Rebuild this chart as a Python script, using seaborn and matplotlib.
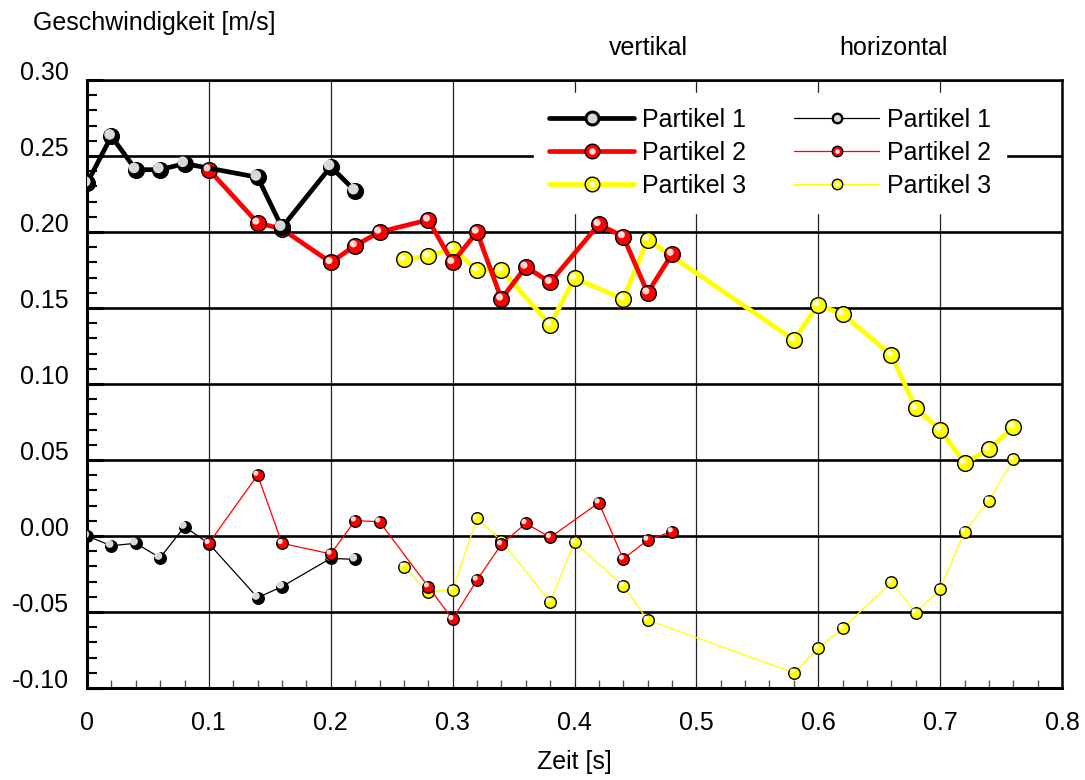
import matplotlib
matplotlib.use("Agg")
import matplotlib.pyplot as plt
import matplotlib.transforms as mtransforms
from matplotlib.lines import Line2D
from matplotlib.legend_handler import HandlerTuple
from matplotlib.ticker import MultipleLocator, FuncFormatter
import pandas as pd
import seaborn as sns

# vertikal (dicke Linien)
t_v1 = [0, 0.02, 0.04, 0.06, 0.08, 0.14, 0.16, 0.20, 0.22]
v_v1 = [0.232, 0.263, 0.241, 0.241, 0.245, 0.236, 0.203, 0.243, 0.227]

t_v2 = [0.10, 0.14, 0.16, 0.20, 0.22, 0.24, 0.28, 0.30, 0.32, 0.34, 0.36, 0.38, 0.42, 0.44, 0.46, 0.48]
v_v2 = [0.241, 0.206, 0.202, 0.180, 0.191, 0.200, 0.208, 0.180, 0.200, 0.156, 0.177, 0.167, 0.205, 0.197, 0.160, 0.1855]

t_v3 = [0.26, 0.28, 0.30, 0.32, 0.34, 0.38, 0.40, 0.44, 0.46, 0.58, 0.60, 0.62, 0.66, 0.68, 0.70, 0.72, 0.74, 0.76]
v_v3 = [0.182, 0.184, 0.189, 0.175, 0.175, 0.139, 0.1695, 0.156, 0.195, 0.129, 0.152, 0.146, 0.119, 0.084, 0.070, 0.048, 0.057, 0.0717]

# horizontal (duenne Linien)
t_h1 = [0, 0.02, 0.04, 0.06, 0.08, 0.10, 0.14, 0.16, 0.20, 0.22]
v_h1 = [0.0, -0.0064, -0.0048, -0.0143, 0.0061, -0.005, -0.0406, -0.0333, -0.0147, -0.0154]

t_h2 = [0.10, 0.14, 0.16, 0.20, 0.22, 0.24, 0.28, 0.30, 0.32, 0.34, 0.36, 0.38, 0.42, 0.44, 0.46, 0.48]
v_h2 = [-0.0048, 0.0401, -0.0048, -0.0118, 0.0101, 0.0094, -0.0333, -0.0548, -0.0289, -0.0055, 0.0083, -0.0009, 0.0219, -0.0151, -0.0026, 0.0029]

t_h3 = [0.26, 0.28, 0.30, 0.32, 0.34, 0.38, 0.40, 0.44, 0.46, 0.58, 0.60, 0.62, 0.66, 0.68, 0.70, 0.72, 0.74, 0.76]
v_h3 = [-0.0202, -0.0366, -0.0355, 0.0116, -0.0033, -0.0432, -0.0042, -0.0327, -0.0553, -0.0899, -0.0739, -0.0607, -0.0305, -0.0504, -0.0349, 0.0029, 0.0233, 0.0504]

labels = ["Partikel 1", "Partikel 2", "Partikel 3"]
colors = ["black", "#ff0000", "#ffff00"]
hl_size = [0.68, 0.45, 0.4]

sns.set_style("white")
plt.rcParams['font.family'] = ['Liberation Sans', 'DejaVu Sans']
plt.rcParams['axes.unicode_minus'] = False
for k in ['text.color', 'axes.labelcolor', 'xtick.color', 'ytick.color']:
    plt.rcParams[k] = 'black'
FS = 18

fig = plt.figure(figsize=(10.85, 7.8), dpi=100)
ax = fig.add_axes([87 / 1085, 92 / 780, 975 / 1085, 608 / 780])

hl = mtransforms.offset_copy(ax.transData, fig=fig, x=-1.8, y=1.8, units='dots')


def draw(t, v, color, lw, ms, hl_frac, z):
    df = pd.DataFrame({"t": t, "v": v})
    sns.lineplot(data=df, x="t", y="v", color=color, lw=lw, estimator=None,
                 sort=False, ax=ax, zorder=z)
    sns.scatterplot(data=df, x="t", y="v", color=color, s=ms ** 2, edgecolor="black",
                    linewidth=1.0, ax=ax, zorder=z + 1)
    ax.scatter(df["t"], df["v"], s=(ms * hl_frac) ** 2, color="white", edgecolor="none",
               alpha=0.85, transform=hl, zorder=z + 1.5)


# duenne Linien (horizontal)
draw(t_h1, v_h1, colors[0], 0.9, 8.3, hl_size[0], 3)
draw(t_h3, v_h3, colors[2], 0.9, 8.3, hl_size[2], 4)
draw(t_h2, v_h2, colors[1], 0.9, 8.3, hl_size[1], 5)

# dicke Linien (vertikal)
draw(t_v3, v_v3, colors[2], 3.4, 11.3, hl_size[2], 6)
draw(t_v2, v_v2, colors[1], 3.4, 11.3, hl_size[1], 7)
draw(t_v1, v_v1, colors[0], 3.4, 11.3, hl_size[0], 8)

ax.set_xlim(0, 0.8)
ax.set_ylim(-0.10, 0.30)
ax.xaxis.set_major_locator(MultipleLocator(0.1))
ax.xaxis.set_minor_locator(MultipleLocator(0.02))
ax.yaxis.set_major_locator(MultipleLocator(0.05))
ax.yaxis.set_minor_locator(MultipleLocator(0.01))
ax.xaxis.set_major_formatter(FuncFormatter(lambda v, p: f"{v:g}"))
ax.yaxis.set_major_formatter(FuncFormatter(lambda v, p: f"{v:.2f}"))

ax.grid(axis='y', which='major', color='black', lw=1.9)
ax.grid(axis='x', which='major', color='#222222', lw=0.9)
ax.set_axisbelow(True)

ax.tick_params(axis='x', which='major', direction='in', length=0, pad=16.5,
               labelsize=FS)
ax.tick_params(axis='x', which='minor', direction='in', length=6, width=1.0,
               color='#555555', bottom=True)
ax.tick_params(axis='y', which='major', direction='in', length=11.5, width=2.2,
               pad=13, labelsize=FS, left=True)
ax.tick_params(axis='y', which='minor', direction='in', length=7, width=1.5,
               left=True)
for lab in ax.get_yticklabels():
    lab.set_verticalalignment('baseline')

for s in ['left', 'bottom']:
    ax.spines[s].set_linewidth(2.2)
for s in ['top', 'right']:
    ax.spines[s].set_linewidth(1.8)
for s in ax.spines.values():
    s.set_color('black')

ax.set_xlabel("Zeit [s]", fontsize=FS, labelpad=11)
ax.set_ylabel("")
fig.text(33 / 1085, 1 - 23 / 780, "Geschwindigkeit [m/s]", fontsize=FS,
         ha='left', va='center')
fig.text(648 / 1085, 1 - 48 / 780, "vertikal", fontsize=FS, ha='center', va='center')
fig.text(893 / 1085, 1 - 48 / 780, "horizontal", fontsize=FS, ha='center', va='center')

# Legende
handles = []
for c, f in zip(colors, hl_size):
    handles.append((Line2D([], [], color=c, lw=3.4, marker='o', ms=10.5,
                           mfc=c, mec='black', mew=1.0),
                    Line2D([], [], ls='none', marker='o', ms=10.5 * f, mfc='white',
                           mec='none', alpha=0.85)))
for c, f in zip(colors, hl_size):
    handles.append((Line2D([], [], color=c, lw=0.9, marker='o', ms=7.5,
                           mfc=c, mec='black', mew=1.0),
                    Line2D([], [], ls='none', marker='o', ms=7.5 * f, mfc='white',
                           mec='none', alpha=0.85)))
leg = ax.legend(handles, labels + labels, ncol=2, loc='upper left',
                bbox_to_anchor=(0.4585, 0.979), borderaxespad=0, borderpad=0.6,
                fontsize=FS, handlelength=3.4, handletextpad=0.3,
                columnspacing=1.95, labelspacing=0.36, frameon=True,
                fancybox=False, framealpha=1, edgecolor='white',
                handler_map={tuple: HandlerTuple(ndivide=1, pad=0)})
leg.set_zorder(20)

fig.savefig("out.png", dpi=100)
